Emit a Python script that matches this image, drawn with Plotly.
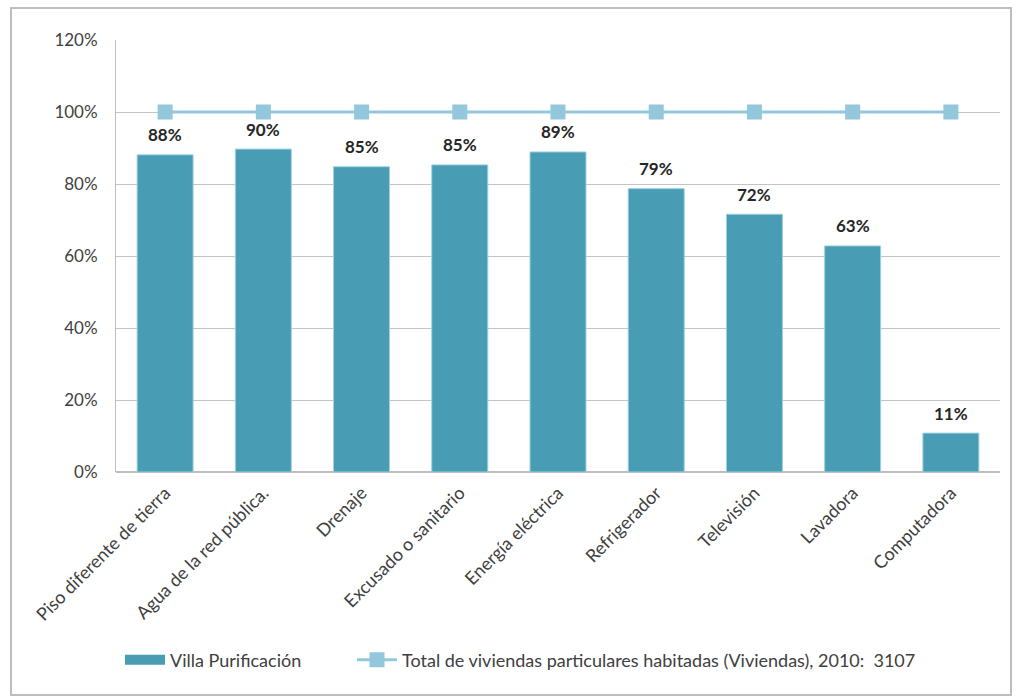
import plotly.graph_objects as go

categories = ["Piso diferente de tierra", "Agua de la red pública.", "Drenaje",
              "Excusado o sanitario", "Energía eléctrica", "Refrigerador",
              "Televisión", "Lavadora", "Computadora"]
villa_values = [0.881, 0.897, 0.848, 0.853, 0.889, 0.787, 0.716, 0.628, 0.108]
total_values = [1.0] * 9
y_ticks = [0, 0.2, 0.4, 0.6, 0.8, 1.0, 1.2]
y_tick_labels = ["0%", "20%", "40%", "60%", "80%", "100%", "120%"]

W, H = 1020, 698
L, R, T, B = 116, 1000, 40, 472

def px(x):
    return (x - L) / (R - L)

def py(y):
    return (B - y) / (B - T)

font_family = "Lato, 'Open Sans', 'DejaVu Sans', sans-serif"
bar_color = "#489CB4"

fig = go.Figure()
fig.add_trace(go.Bar(
    x=categories, y=villa_values, name="Villa Purificación",
    marker=dict(color=bar_color, line=dict(color="#9FD0E0", width=1)),
    showlegend=False,
))
# legend entry with a wide swatch like the original
fig.add_trace(go.Scatter(
    x=[None], y=[None], mode="lines", name="Villa Purificación",
    line=dict(color=bar_color, width=10), legend="legend", hoverinfo="skip",
))
fig.add_trace(go.Scatter(
    x=categories, y=total_values, mode="lines+markers",
    name="Total de viviendas particulares habitadas (Viviendas), 2010:  3107",
    line=dict(color="#93C7DB", width=3),
    marker=dict(symbol="square", size=15, color="#93C7DB"),
    legend="legend2",
))

for c, v in zip(categories, villa_values):
    fig.add_annotation(x=c, y=v, text="<b>%d%%</b>" % round(v * 100),
                       showarrow=False, yshift=20,
                       font=dict(size=17, color="#262626", family=font_family))

fig.add_shape(type="rect", xref="paper", yref="paper",
              x0=px(11), x1=px(1011), y0=py(8), y1=py(695),
              line=dict(color="#BDBDBD", width=2), layer="below")

legend_font = dict(size=18, color="#404040", family=font_family)

fig.update_layout(
    width=W, height=H,
    margin=dict(l=L, r=W - R, t=T, b=H - B),
    plot_bgcolor="white", paper_bgcolor="white",
    font=dict(family=font_family, size=18, color="#404040"),
    bargap=0.43,
    showlegend=True,
    legend=dict(orientation="h", x=px(120), y=py(660), xanchor="left", yanchor="middle",
                font=legend_font, itemwidth=40, bgcolor="rgba(0,0,0,0)"),
    legend2=dict(orientation="h", x=px(352), y=py(660), xanchor="left", yanchor="middle",
                 font=legend_font, itemwidth=40, bgcolor="rgba(0,0,0,0)"),
    xaxis=dict(tickangle=-45, showgrid=False, showline=False, ticks="",
               range=[-0.5, 8.5], ticklabelstandoff=6,
               tickfont=dict(size=18, color="#404040")),
    yaxis=dict(range=[0, 1.2], tickvals=y_ticks, ticktext=y_tick_labels,
               showgrid=True, gridcolor="#C4C4C4", gridwidth=1,
               showline=True, linecolor="#BDBDBD", linewidth=1,
               zeroline=True, zerolinecolor="#BDBDBD",
               ticks="", ticklen=0, ticklabelstandoff=14,
               tickfont=dict(size=17, color="#404040")),
)

fig.write_html("out.html", config={"displayModeBar": False},
               post_script="document.body.style.margin='0px';")
